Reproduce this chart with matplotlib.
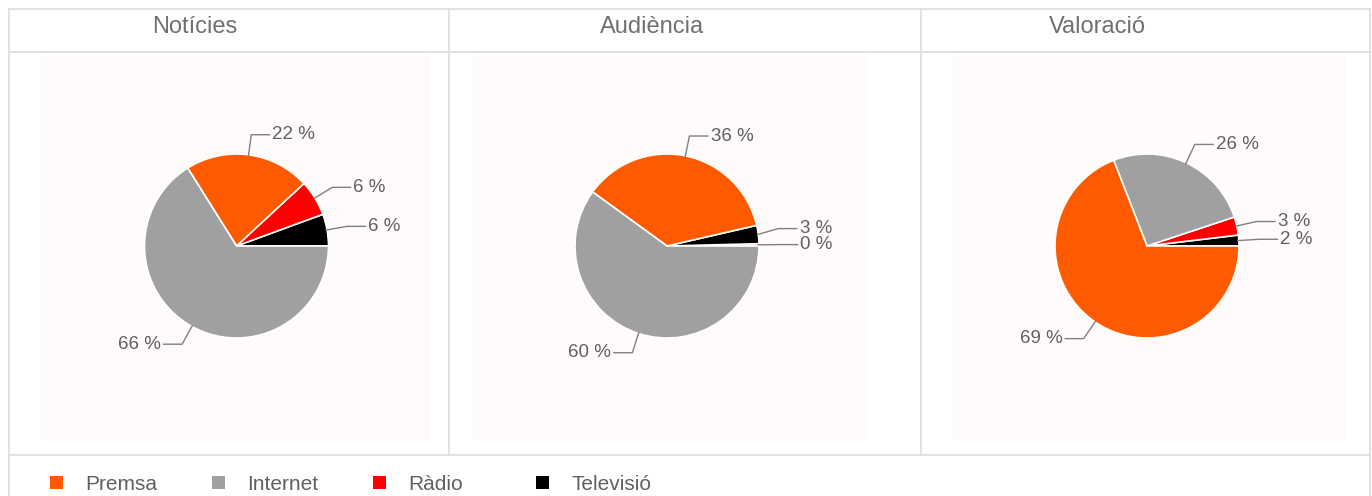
import numpy as np
import matplotlib
matplotlib.use("Agg")
import matplotlib.pyplot as plt
import matplotlib.patches as mpatches

plt.rcParams['font.family'] = ['Liberation Sans', 'DejaVu Sans']

categories = ["Premsa", "Internet", "Ràdio", "Televisió"]
colors = ["#FF5A00", "#A0A0A0", "#FF0000", "#000000"]
titles = ["Notícies", "Audiència", "Valoració"]

noticies = [22.0, 66.1, 6.3, 5.6]
audiencia = [36.4, 60.0, 0.4, 3.2]
valoracio = [69.1, 25.8, 3.2, 1.9]
series = [noticies, audiencia, valoracio]

W, H = 1372, 496
fig = plt.figure(figsize=(W / 100, H / 100), dpi=100)
fig.set_facecolor("#ffffff")

# background layer in pixel coords (table grid, panels, titles, legend)
bg = fig.add_axes([0, 0, 1, 1])
bg.set_xlim(0, W)
bg.set_ylim(H, 0)
bg.axis("off")

grid_c = "#DEDEDE"
panels = [(40, 430), (472, 867), (952, 1346)]
for x0, x1 in panels:
    bg.add_patch(mpatches.Rectangle((x0, 55), x1 - x0, 385, facecolor="#FFFBFA", edgecolor="none"))

bg.plot([8.5, 8.5], [8.5, H], color=grid_c, lw=1.3)
bg.plot([1370, 1370], [8.5, H], color=grid_c, lw=1.3)
bg.plot([8.5, 1370], [8.5, 8.5], color=grid_c, lw=1.3)
bg.plot([8.5, 1370], [52, 52], color=grid_c, lw=1.3)
bg.plot([8.5, 1370], [455, 455], color=grid_c, lw=1.3)
for xs in [449, 921]:
    bg.plot([xs, xs], [8.5, 455], color=grid_c, lw=1.3)

title_x = [195, 652, 1097]
for tx, t in zip(title_x, titles):
    bg.text(tx, 27, t, ha="center", va="center", fontsize=17, color="#707070")

leg_x = [50, 212, 373, 536]
for lx, cat, col in zip(leg_x, categories, colors):
    bg.add_patch(mpatches.Rectangle((lx, 476), 13, 13, facecolor=col, edgecolor="none"))
    bg.text(lx + 35, 484, cat, ha="left", va="center", fontsize=15, color="#606060")

# pies
centers = [(236.5, 246), (667, 246), (1147, 246)]
R = 92.0
S = 400.0
min_gap = 16.0 / R
for (cx, cy), vals in zip(centers, series):
    ax = fig.add_axes([(cx - S / 2) / W, (H - cy - S / 2) / H, S / W, S / H])
    order = np.argsort(vals, kind="stable")
    v = [vals[i] for i in order]
    c = [colors[i] for i in order]
    wedges, _ = ax.pie(v, colors=c, startangle=0, counterclock=True, radius=1.0,
                       wedgeprops=dict(edgecolor="white", linewidth=1.2))
    lim = S / 2 / R
    ax.set_xlim(-lim, lim)
    ax.set_ylim(-lim, lim)
    ax.axis("off")

    total = sum(v)
    start = 0.0
    labels = []
    for val in v:
        mid = np.deg2rad((start + val / 2) / total * 360)
        start += val
        side = 1 if np.cos(mid) >= 0 else -1
        labels.append([mid, side, np.sin(mid) * 1.22, val])

    # push apart labels that sit too close on the same side
    for s in (1, -1):
        grp = sorted([l for l in labels if l[1] == s], key=lambda l: l[2])
        for a, b in zip(grp, grp[1:]):
            if b[2] - a[2] < min_gap:
                b[2] = a[2] + min_gap

    for mid, side, ly, val in labels:
        x0, y0 = np.cos(mid) * 0.99, np.sin(mid) * 0.99
        x1 = np.cos(mid) * 1.22
        x2 = x1 + side * 0.2
        ax.plot([x0, x1, x2], [y0, ly, ly], color="#808080", lw=1.0, clip_on=False)
        ax.text(x2 + side * 0.03, ly, f"{val:.0f} %", ha="left" if side > 0 else "right",
                va="center", fontsize=13.5, color="#606060")

plt.savefig("out.png", dpi=100, facecolor=fig.get_facecolor())
